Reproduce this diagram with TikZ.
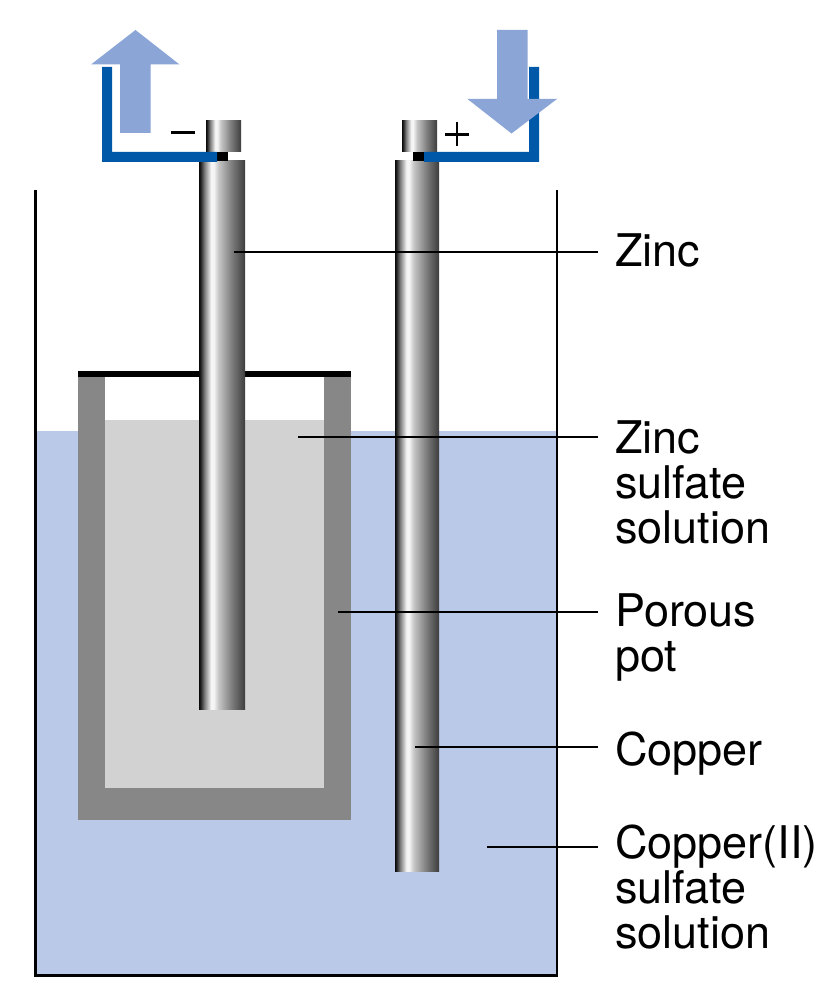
\documentclass[tikz,border=0pt]{standalone}
\usepackage{fontspec}
\setmainfont{TeX Gyre Heros}
\definecolor{wireblue}{HTML}{0059A8}
\definecolor{flowblue}{HTML}{8AA5D6}
\definecolor{liquidblue}{HTML}{BBC9E8}
\definecolor{potgray}{HTML}{878787}
\definecolor{fillgray}{HTML}{D2D2D2}
\pgfdeclarehorizontalshading{metal}{100bp}{
  color(0bp)=(black!96);
  color(25bp)=(black!96);
  color(26.5bp)=(black!88);
  color(31bp)=(black!50);
  color(38bp)=(black!4);
  color(41bp)=(black!4);
  color(46bp)=(black!22);
  color(60bp)=(black!50);
  color(75bp)=(black!76);
  color(100bp)=(black!76)}
\tikzset{
  x=1pt, y=-1pt,
  rodbody/.style={shading=metal, draw=none},
  wire/.style={fill=wireblue, draw=none},
  flowarrow/.style={fill=flowblue, draw=none},
  leader/.style={draw=black, line width=2.4pt},
  callout/.style={anchor=base west, align=left, inner sep=0pt, font=\fontsize{45}{45}\selectfont},
  sign/.style={draw=black, line width=2.6pt},
}
\begin{document}
\begin{tikzpicture}
\useasboundingbox (0,0) rectangle (836,1000);
% solution in the beaker
\fill[liquidblue] (35,431) rectangle (557,976);
% beaker walls
\draw[black, line width=2.6pt, line join=miter] (35.5,190) -- (35.5,975.5) -- (557,975.5) -- (557,190);
% porous pot with its liquid
\fill[potgray] (78,374) rectangle (351,820);
\fill[white] (104.5,374) rectangle (324,420);
\fill[fillgray] (104.5,420) rectangle (324,788);
\fill[black] (78,371) rectangle (351,377);
% zinc electrode
\path[rodbody] (199,161) rectangle (245,709);
\path[rodbody] (206,120.5) rectangle (241,152);
\fill[black] (217,152) rectangle (228,161);
% copper electrode
\path[rodbody] (395,161) rectangle (439,871);
\path[rodbody] (402,120.5) rectangle (437,152);
\fill[black] (413,152) rectangle (424,161);
% external wires
\path[wire] (102,67) -- (112,67) -- (112,152) -- (217,152) -- (217,162) -- (102,162) -- cycle;
\path[wire] (539,67) -- (529,67) -- (529,152) -- (424,152) -- (424,162) -- (539,162) -- cycle;
% current direction arrows
\path[flowarrow] (135.5,30) -- (179.5,64.5) -- (150.5,64.5) -- (150.5,133) -- (120,133) -- (120,64.5) -- (91,64.5) -- cycle;
\path[flowarrow] (497,30) -- (527.5,30) -- (527.5,99) -- (557,99) -- (511.5,133.5) -- (467.5,99) -- (497,99) -- cycle;
% polarity signs
\draw[sign] (171,132.3) -- (194.5,132.3);
\draw[sign] (445,134.3) -- (469,134.3);
\draw[sign] (457,122.5) -- (457,146.5);
% labels
\node[callout] (zinc) at (615,266) {Zinc};
\node[callout] (zincsulfate) at (615,543) {Zinc\\sulfate\\solution};
\node[callout] (porous) at (615,671) {Porous\\pot};
\node[callout] (copper) at (615,765) {Copper};
\node[callout] (coppersulfate) at (615,948) {Copper(II)\\sulfate\\solution};
% leader lines
\coordinate (zincA) at (234,252);
\coordinate (zincB) at (598,252);
\coordinate (zsA) at (298,437);
\coordinate (zsB) at (598,437);
\coordinate (poA) at (338,612);
\coordinate (poB) at (598,612);
\coordinate (cuA) at (415,747);
\coordinate (cuB) at (598,747);
\coordinate (csA) at (487,847);
\coordinate (csB) at (598,847);
\draw[leader] (zincA) -- (zincB);
\draw[leader] (zsA) -- (zsB);
\draw[leader] (poA) -- (poB);
\draw[leader] (cuA) -- (cuB);
\draw[leader] (csA) -- (csB);
\end{tikzpicture}
\end{document}
